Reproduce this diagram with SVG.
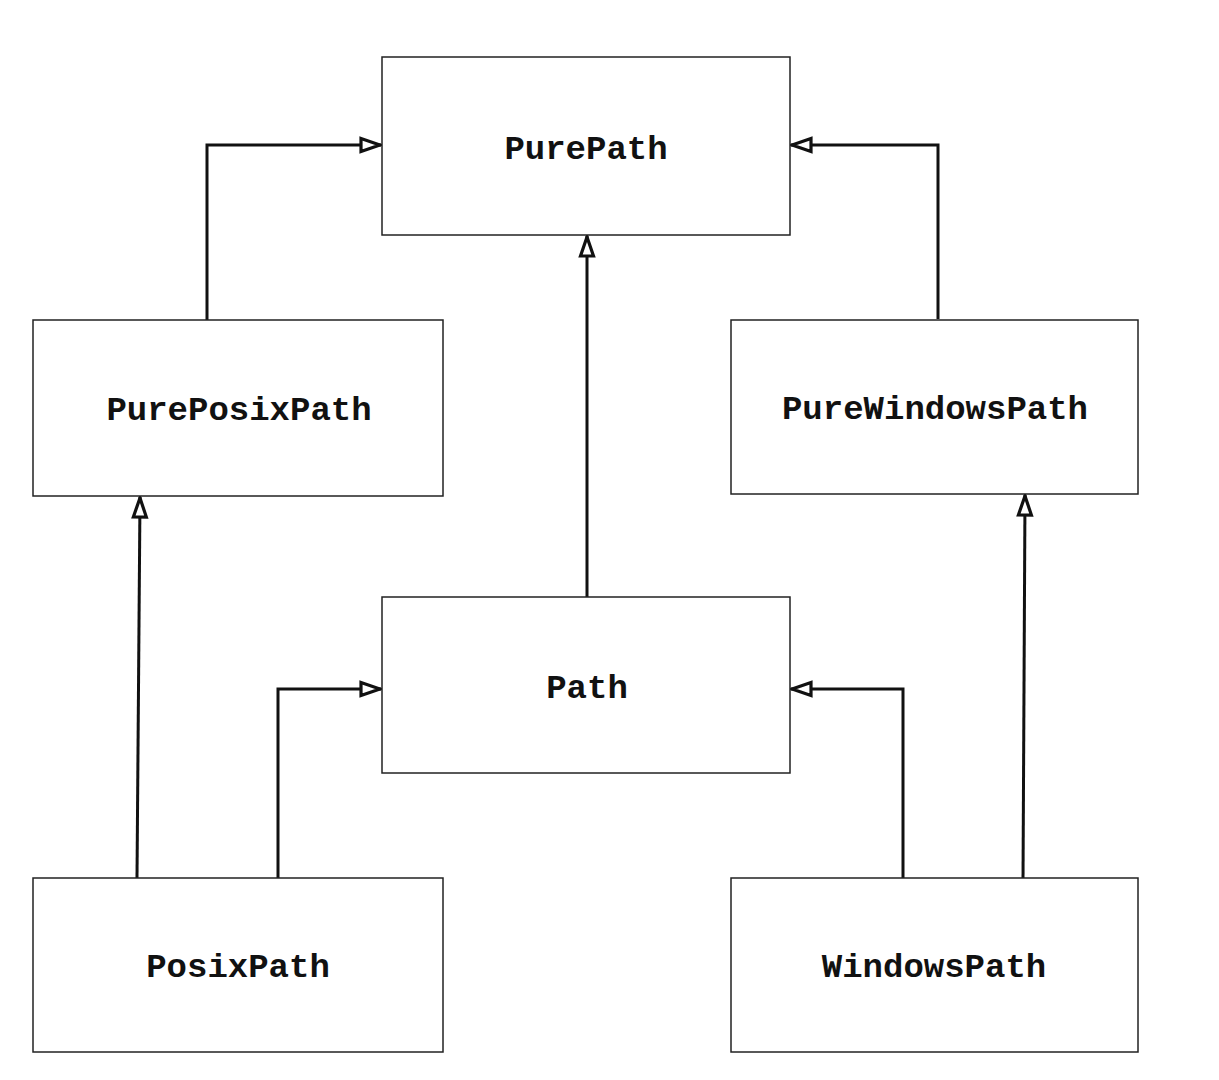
<svg xmlns="http://www.w3.org/2000/svg" width="1219" height="1080" viewBox="0 0 1219 1080">
<style>
.box{fill:#fff;stroke:#222;stroke-width:1.5}
.lbl{font-family:"Liberation Mono","Courier New",monospace;font-weight:bold;font-size:34px;fill:#111;text-anchor:middle}
.edge{fill:none;stroke:#111;stroke-width:3;marker-end:url(#tri)}
</style>
<defs>
<marker id="tri" markerUnits="userSpaceOnUse" markerWidth="26" markerHeight="18" viewBox="0 0 26 18" refX="23" refY="9" orient="auto">
<path d="M3,2.5 L22,9 L3,15.5 Z" fill="#fff" stroke="#111" stroke-width="3.2" stroke-linejoin="miter"/>
</marker>
</defs>
<rect width="1219" height="1080" fill="#fff"/>
<g id="connectors">
<path class="edge" d="M207,320 V145 H381"/>
<path class="edge" d="M938,319 V145 H791"/>
<path class="edge" d="M587,597 V236"/>
<path class="edge" d="M137,878 L140,497"/>
<path class="edge" d="M278,878 V689 H381"/>
<path class="edge" d="M903,878 V689 H791"/>
<path class="edge" d="M1023,880 L1025,495"/>
</g>
<g id="PurePath"><rect class="box" x="382" y="57" width="408" height="178"/><text class="lbl" x="586" y="159">PurePath</text></g>
<g id="PurePosixPath"><rect class="box" x="33" y="320" width="410" height="176"/><text class="lbl" x="239" y="420">PurePosixPath</text></g>
<g id="PureWindowsPath"><rect class="box" x="731" y="320" width="407" height="174"/><text class="lbl" x="935" y="419">PureWindowsPath</text></g>
<g id="Path"><rect class="box" x="382" y="597" width="408" height="176"/><text class="lbl" x="587" y="698">Path</text></g>
<g id="PosixPath"><rect class="box" x="33" y="878" width="410" height="174"/><text class="lbl" x="238" y="977">PosixPath</text></g>
<g id="WindowsPath"><rect class="box" x="731" y="878" width="407" height="174"/><text class="lbl" x="934" y="977">WindowsPath</text></g>
</svg>
